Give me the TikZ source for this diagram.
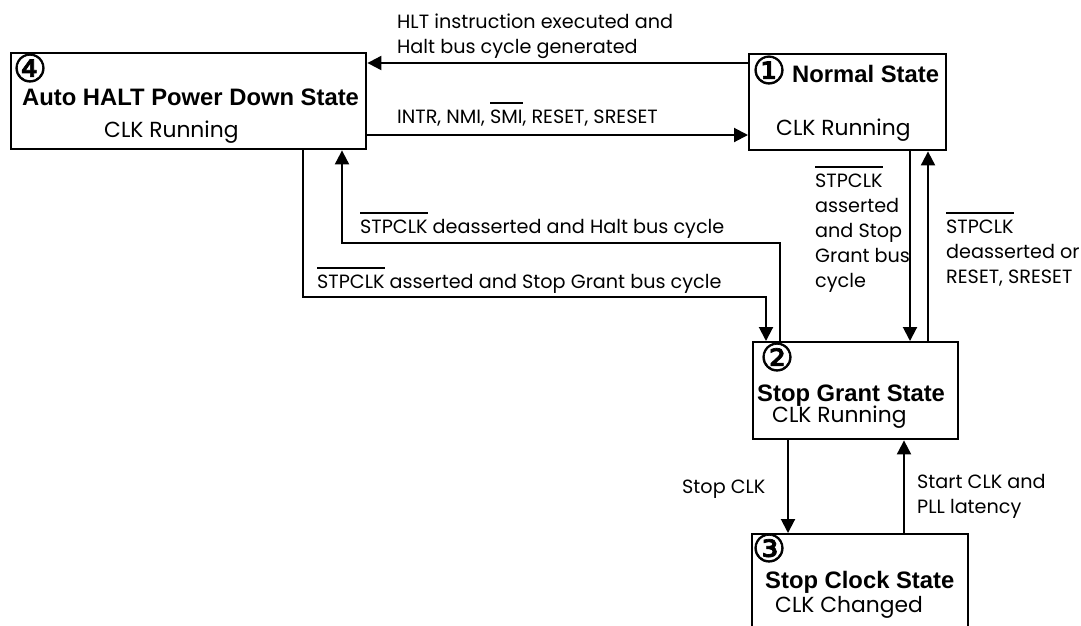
\documentclass[tikz,border=0pt]{standalone}
\usepackage{fontspec}
\setmainfont{Poppins}
\newfontfamily\titlefont{Liberation Sans}
\newfontfamily\circfont{DejaVu Sans}[FakeBold=1.8]
\usetikzlibrary{arrows.meta}
\newcommand{\ovl}[1]{\setbox0\hbox{#1}\rlap{\rule[19pt]{\wd0}{1.6pt}}\box0\relax}

\begin{document}
\begin{tikzpicture}[x=1pt, y=-1pt,
	statebox/.style={draw, line width=2.4pt, anchor=north west, inner sep=0, minimum width=#1},
	num/.style={font=\circfont\fontsize{38}{38}\selectfont, inner sep=0},
	title/.style={font=\titlefont\bfseries\fontsize{23.8}{28}\selectfont, inner sep=0, anchor=base west},
	clk/.style={font=\fontsize{21.8}{24}\selectfont, inner sep=0, anchor=base west},
	lbl/.style={font=\fontsize{19.2}{25}\selectfont, inner sep=0, anchor=base west, align=left},
	trans/.style={line width=2pt, -{Triangle[length=14pt, width=14pt]}}]
		\clip (0,0) rectangle (1081,625);
		\node[statebox=355, minimum height=96] (autohalt) at (10,52) {};
		\node[statebox=197, minimum height=96] (normal) at (748,53) {};
		\node[statebox=205, minimum height=97] (stopgrant) at (752,341) {};
		\node[statebox=216, minimum height=110] (stopclock) at (751,533) {};
		\node[num] (autohalt-num) at (30,68) {④};
		\node[title] (autohalt-title) at (22,105) {Auto HALT Power Down State};
		\node[clk] (autohalt-clk) at (104,137) {CLK Running};
		\node[num] (normal-num) at (769,70) {①};
		\node[title] (normal-title) at (792,82) {Normal State};
		\node[clk] (normal-clk) at (776,135) {CLK Running};
		\node[num] (stopgrant-num) at (777,357) {②};
		\node[title] (stopgrant-title) at (757,401) {Stop Grant State};
		\node[clk] (stopgrant-clk) at (772,422) {CLK Running};
		\node[num] (stopclock-num) at (769,548) {③};
		\node[title] (stopclock-title) at (765,588) {Stop Clock State};
		\node[clk] (stopclock-clk) at (775,612) {CLK Changed};
		\draw[trans] (normal.west |- 0,63) -- (autohalt.east |- 0,63);
		\draw[trans] (autohalt.east |- 0,135) -- (normal.west |- 0,135);
		\draw[trans] (autohalt.south -| 303,0) |- (766,297) -- (stopgrant.north -| 766,0);
		\draw[trans] (stopgrant.north -| 780,0) |- (342,243) -- (autohalt.south -| 342,0);
		\draw[trans] (normal.south -| 910,0) -- (stopgrant.north -| 910,0);
		\draw[trans] (stopgrant.north -| 928,0) -- (normal.south -| 928,0);
		\draw[trans] (stopgrant.south -| 788,0) -- (stopclock.north -| 788,0);
		\draw[trans] (stopclock.north -| 904,0) -- (stopgrant.south -| 904,0);
		\node[lbl] (hlt) at (397,53) {HLT instruction executed and\\Halt bus cycle generated};
		\node[lbl] (intr) at (397,123) {INTR, NMI, \ovl{SMI}, RESET, SRESET};
		\node[lbl] (deassert-halt) at (360,233) {\ovl{STPCLK} deasserted and Halt bus cycle};
		\node[lbl] (assert-grant) at (317,288) {\ovl{STPCLK} asserted and Stop Grant bus cycle};
		\node[lbl] (assert-normal) at (815,287) {\ovl{STPCLK}\\asserted\\and Stop\\Grant bus\\cycle};
		\node[lbl] (deassert-normal) at (946,283) {\ovl{STPCLK}\\deasserted or\\RESET, SRESET};
		\node[lbl] (stop-clk) at (682,493) {Stop CLK};
		\node[lbl] (start-clk) at (917,513) {Start CLK and\\PLL latency};
\end{tikzpicture}
\end{document}
